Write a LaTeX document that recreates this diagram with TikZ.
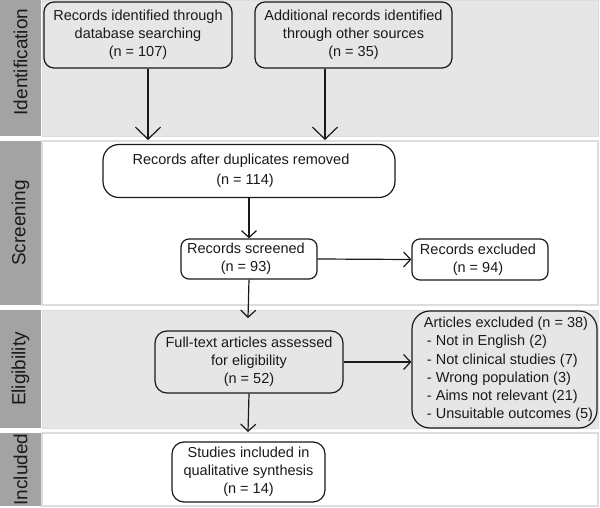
\documentclass[tikz,border=0pt]{standalone}
\usepackage{fontspec}
\setmainfont{Liberation Sans}
\usetikzlibrary{arrows.meta}
\definecolor{bandgray}{HTML}{E6E6E6}
\definecolor{stripgray}{HTML}{A3A3A3}
\definecolor{bandline}{HTML}{DDDDDD}
\definecolor{inkc}{HTML}{1A1A1A}
\tikzset{
  stage/.style={draw=inkc, line width=1.2pt, rounded corners=#1, align=center, inner sep=0pt,
    text=inkc, font=\fontsize{14.5}{18}\selectfont},
  stage/.default=10pt,
  bigarr/.style={draw=inkc, line width=1.2pt, -{Straight Barb[length=12pt,width=25pt,line width=1.2pt]}},
  smallarr/.style={draw=inkc, line width=1.2pt, -{Straight Barb[length=7pt,width=15pt,line width=1.2pt]}},
  strip/.style={fill=stripgray, draw=none},
  grayband/.style={fill=bandgray, draw=bandline, line width=0.8pt},
  whiteband/.style={fill=white, draw=bandline, line width=1.5pt},
  phase/.style={rotate=90, text=inkc, font=\fontsize{19}{22}\selectfont, inner sep=0pt}
}
\begin{document}
\begin{tikzpicture}[x=1pt,y=-1pt]
\useasboundingbox (0,0) rectangle (600,508);
% bands
\fill[white] (0,0) rectangle (600,508);
\path[strip] (0,0) rectangle (41,136);
\path[grayband] (42,0) rectangle (598,136);
\path[strip] (0,141) rectangle (41,305);
\path[whiteband] (42,141) rectangle (598,305);
\path[strip] (0,310) rectangle (41,428);
\path[grayband] (42,310) rectangle (598,428);
\path[strip] (0,433) rectangle (41,506);
\path[whiteband] (42,433) rectangle (598,506);
% phase labels
\node[phase] (lid) at (20.5,62) {Identification};
\node[phase] (lsc) at (20.5,223) {Screening};
\node[phase] (lel) at (20.5,369) {Eligibility};
\node[phase] (lin) at (20.5,469.5) {Included};
% boxes
\node[stage, minimum width=188pt, minimum height=66pt] (b1) at (138,35)
  {Records identified through\\database searching\\(n = 107)};
\node[stage, minimum width=197pt, minimum height=66pt] (b2) at (353.5,35)
  {Additional records identified\\through other sources\\(n = 35)};
\node[stage=16pt, minimum width=292pt, minimum height=53pt] (b3) at (249,171)
  {Records after duplicates removed\hspace*{16pt}\\[2pt](n = 114)\hspace*{8pt}};
\node[stage=8pt, minimum width=136pt, minimum height=40pt] (b4) at (249,259)
  {Records screened\hspace*{6pt}\\(n = 93)\hspace*{6pt}};
\node[stage=8pt, minimum width=136pt, minimum height=41pt] (b5) at (480,259.5)
  {Records excluded\hspace*{4pt}\\(n = 94)\hspace*{4pt}};
\node[stage=12pt, minimum width=188pt, minimum height=62pt] (b6) at (249,362)
  {Full-text articles assessed\\for eligibility\\(n = 52)};
\node[stage=18pt, minimum width=185pt, minimum height=117pt, align=left,
      font=\fontsize{14.5}{18.2}\selectfont] (b7) at (504.5,369.5)
  {\hspace*{8pt}Articles excluded (n = 38)\\
   \hspace*{11pt}- Not in English (2)\\
   \hspace*{11pt}- Not clinical studies (7)\\
   \hspace*{11pt}- Wrong population (3)\\
   \hspace*{11pt}- Aims not relevant (21)\\
   \hspace*{11pt}- Unsuitable outcomes (5)};
\node[stage=12pt, minimum width=153pt, minimum height=60pt] (b8) at (248.5,472)
  {Studies included in\\qualitative synthesis\\(n = 14)};
% arrow end points
\coordinate (e1) at (148,140);
\coordinate (e2) at (325,140);
\coordinate (e4) at (248,318);
\coordinate (e6) at (248,432);
% connectors
\draw[bigarr] (e1 |- b1.south) -- (e1);
\draw[bigarr] (e2 |- b2.south) -- (e2);
\draw[smallarr] (b3.south) -- (b4.north);
\draw[smallarr] (b4.east) -- (b5.west);
\draw[smallarr] (b4.south) -- (e4);
\draw[smallarr] (b6.east) -- (b6.east -| b7.west);
\draw[smallarr] (b6.south) -- (e6);
\end{tikzpicture}
\end{document}
